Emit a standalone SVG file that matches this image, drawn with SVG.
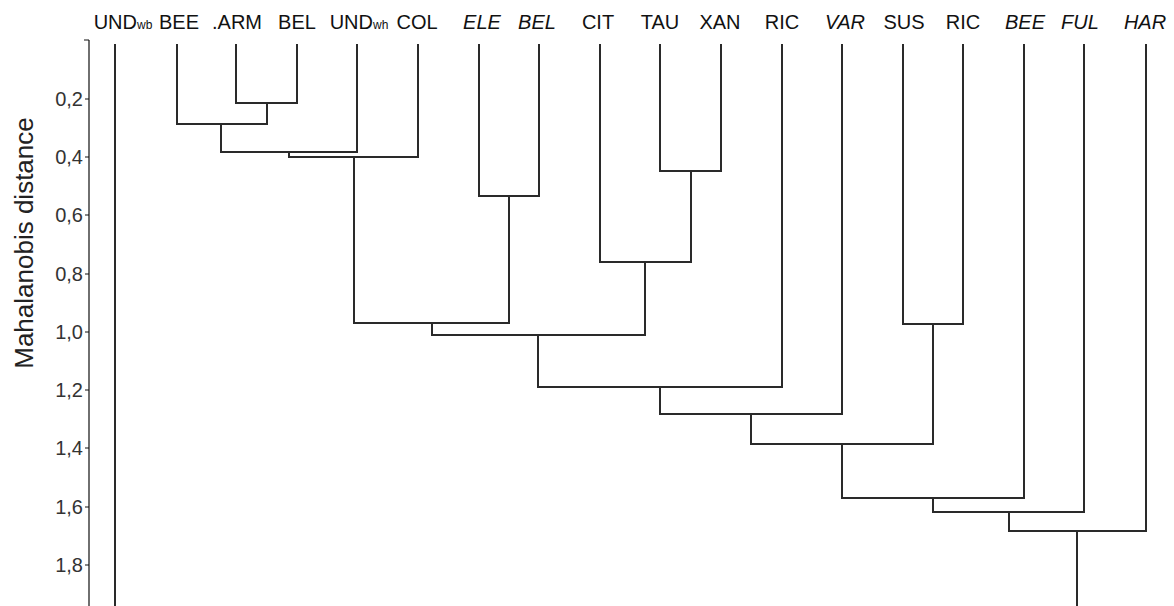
<svg xmlns="http://www.w3.org/2000/svg" width="1174" height="606" viewBox="0 0 1174 606">
<style>
.lbl{font-family:"Liberation Sans",Arial,sans-serif;font-size:20px;fill:#111;text-anchor:middle}
.it{font-style:italic}
.sub{font-size:12px}
.tick{font-family:"Liberation Sans",Arial,sans-serif;font-size:20px;fill:#333;text-anchor:end}
.ax{stroke:#111;stroke-width:1.2;fill:none}
.br{stroke:#2a2a2a;stroke-width:2;fill:none;stroke-linejoin:miter}
</style>
<rect width="1174" height="606" fill="#fff"/>
<g id="axis">
<path class="ax" d="M89,40 V606 M84,40 H89 M85,99 H89 M85,157 H89 M85,215 H89 M85,274 H89 M85,332 H89 M85,390 H89 M85,448 H89 M85,507 H89 M85,565 H89"/>
<text class="tick" x="83" y="106">0,2</text>
<text class="tick" x="83" y="164">0,4</text>
<text class="tick" x="83" y="222">0,6</text>
<text class="tick" x="83" y="281">0,8</text>
<text class="tick" x="83" y="339">1,0</text>
<text class="tick" x="83" y="397">1,2</text>
<text class="tick" x="83" y="455">1,4</text>
<text class="tick" x="83" y="514">1,6</text>
<text class="tick" x="83" y="572">1,8</text>
<text font-family="Liberation Sans, Arial, sans-serif" font-size="26" fill="#222" text-anchor="middle" transform="translate(33,243) rotate(-90)">Mahalanobis distance</text>
</g>
<g id="leaf-UNDwb"><text class="lbl" x="123" y="29">UND<tspan class="sub">wb</tspan></text></g>
<g id="leaf-BEE1"><text class="lbl" x="179" y="29">BEE</text></g>
<g id="leaf-ARM"><text class="lbl" x="237" y="29">.ARM</text></g>
<g id="leaf-BEL1"><text class="lbl" x="297" y="29">BEL</text></g>
<g id="leaf-UNDwh"><text class="lbl" x="359" y="29">UND<tspan class="sub">wh</tspan></text></g>
<g id="leaf-COL"><text class="lbl" x="417" y="29">COL</text></g>
<g id="leaf-ELE"><text class="lbl it" x="482" y="29">ELE</text></g>
<g id="leaf-BEL2"><text class="lbl it" x="537" y="29">BEL</text></g>
<g id="leaf-CIT"><text class="lbl" x="598" y="29">CIT</text></g>
<g id="leaf-TAU"><text class="lbl" x="660" y="29">TAU</text></g>
<g id="leaf-XAN"><text class="lbl" x="720" y="29">XAN</text></g>
<g id="leaf-RIC1"><text class="lbl" x="782" y="29">RIC</text></g>
<g id="leaf-VAR"><text class="lbl it" x="845" y="29">VAR</text></g>
<g id="leaf-SUS"><text class="lbl" x="904" y="29">SUS</text></g>
<g id="leaf-RIC2"><text class="lbl" x="963" y="29">RIC</text></g>
<g id="leaf-BEE2"><text class="lbl it" x="1025" y="29">BEE</text></g>
<g id="leaf-FUL"><text class="lbl it" x="1080" y="29">FUL</text></g>
<g id="leaf-HAR"><text class="lbl it" x="1145" y="29">HAR</text></g>
<g id="connectors">
<path class="br" d="M115,44 V606"/>
<path class="br" d="M236,44 V103 H297 V44"/>
<path class="br" d="M177,44 V124 H267 V103"/>
<path class="br" d="M221,124 V152 H357 V44"/>
<path class="br" d="M289,152 V157 H418 V44"/>
<path class="br" d="M479,44 V196 H539 V44"/>
<path class="br" d="M660,44 V171 H721 V44"/>
<path class="br" d="M600,44 V262 H691 V171"/>
<path class="br" d="M354,157 V323 H509 V196"/>
<path class="br" d="M432,323 V335 H645 V262"/>
<path class="br" d="M538,335 V387 H782 V44"/>
<path class="br" d="M660,387 V414 H842 V44"/>
<path class="br" d="M903,44 V324 H963 V44"/>
<path class="br" d="M751,414 V444 H933 V324"/>
<path class="br" d="M842,444 V498 H1024 V44"/>
<path class="br" d="M933,498 V512 H1084 V44"/>
<path class="br" d="M1009,512 V531 H1146 V44"/>
<path class="br" d="M1077,531 V606"/>
</g>
</svg>
